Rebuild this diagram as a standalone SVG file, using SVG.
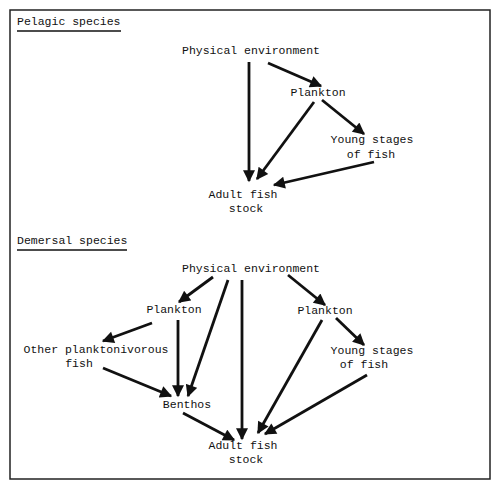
<svg xmlns="http://www.w3.org/2000/svg" width="500" height="490" viewBox="0 0 500 490">
<style>
text{font-family:"Liberation Mono","DejaVu Sans Mono",monospace;font-size:11.5px;fill:#111}
.c{text-anchor:middle}
.a{stroke:#111;stroke-width:2.8;fill:none;marker-end:url(#ah)}
.u{stroke:#111;stroke-width:1.3}
</style>
<defs>
<marker id="ah" viewBox="0 0 10 10" refX="9" refY="5" markerUnits="userSpaceOnUse" markerWidth="13" markerHeight="12" orient="auto">
<path d="M0,0 L10,5 L0,10 Z" fill="#111"/>
</marker>
</defs>
<rect x="10" y="10" width="480" height="469" fill="#fff" stroke="#222" stroke-width="1.5"/>
<g id="titles">
<text x="17" y="25">Pelagic species</text>
<line class="u" x1="17" y1="31" x2="121" y2="31"/>
<text x="17" y="244">Demersal species</text>
<line class="u" x1="17" y1="250" x2="127" y2="250"/>
</g>
<g id="p-phys"><text class="c" x="251" y="54">Physical environment</text></g>
<g id="p-plank"><text class="c" x="318" y="96">Plankton</text></g>
<g id="p-young"><text class="c" x="372" y="143">Young stages</text><text class="c" x="371" y="158">of fish</text></g>
<g id="p-adult"><text class="c" x="243" y="198">Adult fish</text><text class="c" x="246" y="212">stock</text></g>
<g id="d-phys"><text class="c" x="251" y="272">Physical environment</text></g>
<g id="d-plank-l"><text class="c" x="174" y="313">Plankton</text></g>
<g id="d-plank-r"><text class="c" x="325" y="314">Plankton</text></g>
<g id="d-other"><text class="c" x="96" y="353">Other planktonivorous</text><text class="c" x="79" y="367">fish</text></g>
<g id="d-benthos"><text class="c" x="187" y="408">Benthos</text></g>
<g id="d-young"><text class="c" x="372" y="354">Young stages</text><text class="c" x="364" y="368">of fish</text></g>
<g id="d-adult"><text class="c" x="243" y="449">Adult fish</text><text class="c" x="246" y="463">stock</text></g>
<g id="connectors">
<line class="a" x1="249" y1="62" x2="249" y2="181"/>
<line class="a" x1="268" y1="63" x2="321" y2="86"/>
<line class="a" x1="314" y1="102" x2="257" y2="179"/>
<line class="a" x1="322" y1="100" x2="364" y2="134"/>
<line class="a" x1="374" y1="162" x2="274" y2="185"/>
<line class="a" x1="213" y1="277" x2="179" y2="302"/>
<line class="a" x1="228" y1="280" x2="188" y2="396"/>
<line class="a" x1="242" y1="280" x2="242" y2="439"/>
<line class="a" x1="288" y1="275" x2="325" y2="305"/>
<line class="a" x1="152" y1="323" x2="103" y2="341"/>
<line class="a" x1="178" y1="320" x2="178" y2="396"/>
<line class="a" x1="103" y1="368" x2="171" y2="396"/>
<line class="a" x1="183" y1="413" x2="234" y2="440"/>
<line class="a" x1="322" y1="320" x2="258" y2="433"/>
<line class="a" x1="336" y1="318" x2="364" y2="345"/>
<line class="a" x1="367" y1="375" x2="265" y2="434"/>
</g>
</svg>
